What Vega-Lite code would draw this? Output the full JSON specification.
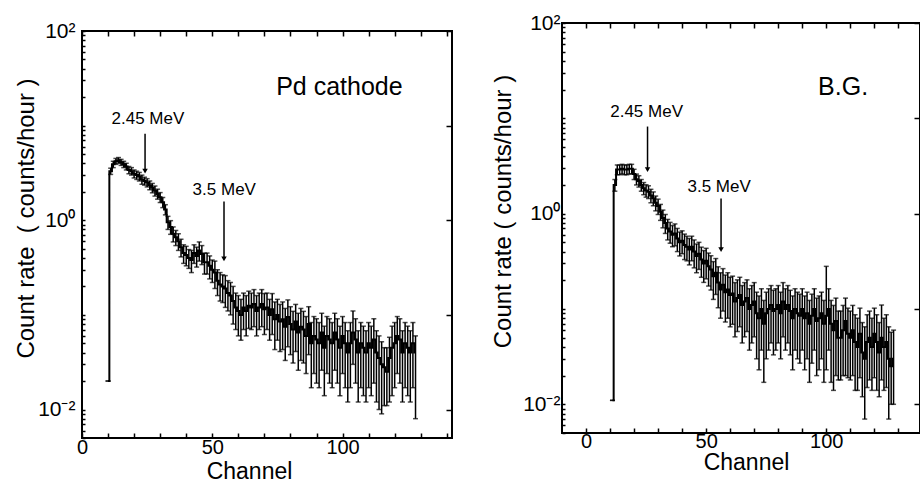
{
"$schema":"https://vega.github.io/schema/vega-lite/v6.json",
"background":"white",
"padding":{"left":13,"top":11,"right":0,"bottom":0},
"config":{"font":"Liberation Sans","view":{"stroke":"black","strokeWidth":2},
"axis":{"grid":false,"domain":false,"tickColor":"black","tickWidth":1.5,"labelColor":"black","titleColor":"black","labelFont":"Liberation Sans","titleFont":"Liberation Sans","titleFontWeight":"normal","labelOverlap":false,"labelFlush":false}},
"datasets":{
"pd":[{"c":10,"v":0.02,"lo":0.02,"hi":0.02},{"c":11,"v":3.3,"lo":3.05,"hi":3.55},{"c":12,"v":3.9,"lo":3.6,"hi":4.2},{"c":13,"v":4.2,"lo":3.9,"hi":4.5},{"c":14,"v":4.3,"lo":4.0,"hi":4.6},{"c":15,"v":4.1,"lo":3.8,"hi":4.4},{"c":16,"v":3.9,"lo":3.6,"hi":4.2},{"c":17,"v":3.7,"lo":3.4,"hi":4.0},{"c":18,"v":3.4,"lo":3.1,"hi":3.7},{"c":19,"v":3.3,"lo":3.0,"hi":3.6},{"c":20,"v":3.1,"lo":2.8,"hi":3.4},{"c":21,"v":3.0,"lo":2.7,"hi":3.3},{"c":22,"v":2.9,"lo":2.6,"hi":3.2},{"c":23,"v":2.7,"lo":2.4,"hi":3.0},{"c":24,"v":2.6,"lo":2.35,"hi":2.85},{"c":25,"v":2.5,"lo":2.25,"hi":2.75},{"c":26,"v":2.35,"lo":2.1,"hi":2.6},{"c":27,"v":2.2,"lo":1.95,"hi":2.45},{"c":28,"v":2.05,"lo":1.8,"hi":2.3},{"c":29,"v":1.9,"lo":1.67,"hi":2.13},{"c":30,"v":1.75,"lo":1.54,"hi":1.96},{"c":31,"v":1.55,"lo":1.36,"hi":1.74},{"c":32,"v":1.3,"lo":1.14,"hi":1.46},{"c":33,"v":0.95,"lo":0.8,"hi":1.1},{"c":34,"v":0.85,"lo":0.71,"hi":0.99},{"c":35,"v":0.72,"lo":0.59,"hi":0.85},{"c":36,"v":0.66,"lo":0.54,"hi":0.78},{"c":37,"v":0.6,"lo":0.48,"hi":0.72},{"c":38,"v":0.52,"lo":0.41,"hi":0.63},{"c":39,"v":0.45,"lo":0.35,"hi":0.55},{"c":40,"v":0.43,"lo":0.33,"hi":0.53},{"c":41,"v":0.4,"lo":0.31,"hi":0.49},{"c":42,"v":0.38,"lo":0.28,"hi":0.48},{"c":43,"v":0.45,"lo":0.35,"hi":0.55},{"c":44,"v":0.42,"lo":0.32,"hi":0.52},{"c":45,"v":0.48,"lo":0.37,"hi":0.59},{"c":46,"v":0.44,"lo":0.34,"hi":0.54},{"c":47,"v":0.36,"lo":0.27,"hi":0.45},{"c":48,"v":0.36,"lo":0.27,"hi":0.45},{"c":49,"v":0.33,"lo":0.24,"hi":0.42},{"c":50,"v":0.3,"lo":0.22,"hi":0.38},{"c":51,"v":0.28,"lo":0.19,"hi":0.37},{"c":52,"v":0.23,"lo":0.16,"hi":0.3},{"c":53,"v":0.21,"lo":0.14,"hi":0.28},{"c":54,"v":0.2,"lo":0.135,"hi":0.265},{"c":55,"v":0.19,"lo":0.12,"hi":0.26},{"c":56,"v":0.17,"lo":0.11,"hi":0.23},{"c":57,"v":0.16,"lo":0.1,"hi":0.22},{"c":58,"v":0.14,"lo":0.08,"hi":0.2},{"c":59,"v":0.12,"lo":0.07,"hi":0.17},{"c":60,"v":0.11,"lo":0.06,"hi":0.16},{"c":61,"v":0.1,"lo":0.054,"hi":0.146},{"c":62,"v":0.12,"lo":0.07,"hi":0.17},{"c":63,"v":0.11,"lo":0.06,"hi":0.16},{"c":64,"v":0.125,"lo":0.072,"hi":0.178},{"c":65,"v":0.12,"lo":0.07,"hi":0.17},{"c":66,"v":0.13,"lo":0.075,"hi":0.185},{"c":67,"v":0.11,"lo":0.06,"hi":0.16},{"c":68,"v":0.12,"lo":0.07,"hi":0.17},{"c":69,"v":0.13,"lo":0.075,"hi":0.185},{"c":70,"v":0.115,"lo":0.062,"hi":0.168},{"c":71,"v":0.12,"lo":0.07,"hi":0.17},{"c":72,"v":0.1,"lo":0.054,"hi":0.146},{"c":73,"v":0.115,"lo":0.062,"hi":0.168},{"c":74,"v":0.09,"lo":0.043,"hi":0.137},{"c":75,"v":0.1,"lo":0.054,"hi":0.146},{"c":76,"v":0.085,"lo":0.041,"hi":0.129},{"c":77,"v":0.09,"lo":0.043,"hi":0.137},{"c":78,"v":0.075,"lo":0.033,"hi":0.117},{"c":79,"v":0.095,"lo":0.046,"hi":0.144},{"c":80,"v":0.08,"lo":0.038,"hi":0.122},{"c":81,"v":0.07,"lo":0.031,"hi":0.109},{"c":82,"v":0.085,"lo":0.041,"hi":0.129},{"c":83,"v":0.065,"lo":0.026,"hi":0.104},{"c":84,"v":0.075,"lo":0.033,"hi":0.117},{"c":85,"v":0.07,"lo":0.031,"hi":0.109},{"c":86,"v":0.06,"lo":0.024,"hi":0.096},{"c":87,"v":0.08,"lo":0.038,"hi":0.122},{"c":88,"v":0.05,"lo":0.017,"hi":0.083},{"c":89,"v":0.06,"lo":0.024,"hi":0.096},{"c":90,"v":0.055,"lo":0.019,"hi":0.091},{"c":91,"v":0.05,"lo":0.017,"hi":0.083},{"c":92,"v":0.065,"lo":0.026,"hi":0.104},{"c":93,"v":0.045,"lo":0.014,"hi":0.076},{"c":94,"v":0.06,"lo":0.024,"hi":0.096},{"c":95,"v":0.055,"lo":0.019,"hi":0.091},{"c":96,"v":0.05,"lo":0.017,"hi":0.083},{"c":97,"v":0.065,"lo":0.026,"hi":0.104},{"c":98,"v":0.055,"lo":0.019,"hi":0.091},{"c":99,"v":0.045,"lo":0.014,"hi":0.076},{"c":100,"v":0.06,"lo":0.024,"hi":0.096},{"c":101,"v":0.05,"lo":0.017,"hi":0.083},{"c":102,"v":0.04,"lo":0.012,"hi":0.068},{"c":103,"v":0.05,"lo":0.017,"hi":0.083},{"c":104,"v":0.065,"lo":0.03,"hi":0.11},{"c":105,"v":0.055,"lo":0.019,"hi":0.091},{"c":106,"v":0.04,"lo":0.012,"hi":0.068},{"c":107,"v":0.05,"lo":0.017,"hi":0.083},{"c":108,"v":0.045,"lo":0.014,"hi":0.076},{"c":109,"v":0.04,"lo":0.012,"hi":0.068},{"c":110,"v":0.05,"lo":0.017,"hi":0.083},{"c":111,"v":0.045,"lo":0.014,"hi":0.076},{"c":112,"v":0.055,"lo":0.019,"hi":0.091},{"c":113,"v":0.04,"lo":0.012,"hi":0.068},{"c":114,"v":0.035,"lo":0.01,"hi":0.06},{"c":115,"v":0.03,"lo":0.009,"hi":0.052},{"c":116,"v":0.028,"lo":0.011,"hi":0.045},{"c":117,"v":0.025,"lo":0.011,"hi":0.045},{"c":118,"v":0.035,"lo":0.012,"hi":0.058},{"c":119,"v":0.045,"lo":0.014,"hi":0.076},{"c":120,"v":0.05,"lo":0.017,"hi":0.083},{"c":121,"v":0.06,"lo":0.024,"hi":0.096},{"c":122,"v":0.055,"lo":0.019,"hi":0.091},{"c":123,"v":0.04,"lo":0.012,"hi":0.068},{"c":124,"v":0.05,"lo":0.017,"hi":0.083},{"c":125,"v":0.045,"lo":0.014,"hi":0.076},{"c":126,"v":0.04,"lo":0.012,"hi":0.068},{"c":127,"v":0.05,"lo":0.017,"hi":0.083},{"c":128,"v":0.04,"lo":0.008,"hi":0.06}],
"bg":[{"c":11,"v":0.011,"lo":0.011,"hi":0.011},{"c":12,"v":2.0,"lo":1.72,"hi":2.28},{"c":13,"v":2.9,"lo":2.56,"hi":3.24},{"c":14,"v":2.9,"lo":2.56,"hi":3.24},{"c":15,"v":2.95,"lo":2.61,"hi":3.29},{"c":16,"v":2.9,"lo":2.56,"hi":3.24},{"c":17,"v":2.9,"lo":2.56,"hi":3.24},{"c":18,"v":2.95,"lo":2.61,"hi":3.29},{"c":19,"v":2.95,"lo":2.61,"hi":3.29},{"c":20,"v":2.6,"lo":2.28,"hi":2.92},{"c":21,"v":2.3,"lo":2.0,"hi":2.6},{"c":22,"v":2.2,"lo":1.9,"hi":2.5},{"c":23,"v":2.0,"lo":1.72,"hi":2.28},{"c":24,"v":1.85,"lo":1.58,"hi":2.12},{"c":25,"v":1.75,"lo":1.49,"hi":2.01},{"c":26,"v":1.7,"lo":1.44,"hi":1.96},{"c":27,"v":1.55,"lo":1.3,"hi":1.8},{"c":28,"v":1.45,"lo":1.21,"hi":1.69},{"c":29,"v":1.3,"lo":1.07,"hi":1.53},{"c":30,"v":1.2,"lo":0.98,"hi":1.42},{"c":31,"v":1.05,"lo":0.85,"hi":1.25},{"c":32,"v":0.9,"lo":0.71,"hi":1.09},{"c":33,"v":0.8,"lo":0.62,"hi":0.98},{"c":34,"v":0.7,"lo":0.53,"hi":0.87},{"c":35,"v":0.65,"lo":0.49,"hi":0.81},{"c":36,"v":0.6,"lo":0.45,"hi":0.75},{"c":37,"v":0.62,"lo":0.46,"hi":0.78},{"c":38,"v":0.55,"lo":0.4,"hi":0.7},{"c":39,"v":0.5,"lo":0.36,"hi":0.64},{"c":40,"v":0.52,"lo":0.38,"hi":0.66},{"c":41,"v":0.47,"lo":0.33,"hi":0.61},{"c":42,"v":0.45,"lo":0.32,"hi":0.58},{"c":43,"v":0.42,"lo":0.29,"hi":0.55},{"c":44,"v":0.45,"lo":0.32,"hi":0.58},{"c":45,"v":0.4,"lo":0.27,"hi":0.53},{"c":46,"v":0.36,"lo":0.24,"hi":0.48},{"c":47,"v":0.38,"lo":0.26,"hi":0.5},{"c":48,"v":0.33,"lo":0.215,"hi":0.445},{"c":49,"v":0.3,"lo":0.19,"hi":0.41},{"c":50,"v":0.32,"lo":0.207,"hi":0.433},{"c":51,"v":0.28,"lo":0.174,"hi":0.386},{"c":52,"v":0.26,"lo":0.158,"hi":0.362},{"c":53,"v":0.22,"lo":0.126,"hi":0.314},{"c":54,"v":0.24,"lo":0.142,"hi":0.338},{"c":55,"v":0.19,"lo":0.103,"hi":0.277},{"c":56,"v":0.16,"lo":0.08,"hi":0.24},{"c":57,"v":0.18,"lo":0.095,"hi":0.265},{"c":58,"v":0.15,"lo":0.073,"hi":0.227},{"c":59,"v":0.16,"lo":0.08,"hi":0.24},{"c":60,"v":0.14,"lo":0.065,"hi":0.215},{"c":61,"v":0.145,"lo":0.069,"hi":0.221},{"c":62,"v":0.12,"lo":0.051,"hi":0.189},{"c":63,"v":0.13,"lo":0.058,"hi":0.202},{"c":64,"v":0.14,"lo":0.065,"hi":0.215},{"c":65,"v":0.11,"lo":0.044,"hi":0.176},{"c":66,"v":0.12,"lo":0.051,"hi":0.189},{"c":67,"v":0.13,"lo":0.058,"hi":0.202},{"c":68,"v":0.1,"lo":0.037,"hi":0.163},{"c":69,"v":0.11,"lo":0.044,"hi":0.176},{"c":70,"v":0.12,"lo":0.051,"hi":0.189},{"c":71,"v":0.09,"lo":0.03,"hi":0.15},{"c":72,"v":0.08,"lo":0.023,"hi":0.137},{"c":73,"v":0.1,"lo":0.037,"hi":0.163},{"c":74,"v":0.07,"lo":0.017,"hi":0.123},{"c":75,"v":0.09,"lo":0.03,"hi":0.15},{"c":76,"v":0.1,"lo":0.037,"hi":0.163},{"c":77,"v":0.11,"lo":0.044,"hi":0.176},{"c":78,"v":0.095,"lo":0.033,"hi":0.157},{"c":79,"v":0.1,"lo":0.037,"hi":0.163},{"c":80,"v":0.11,"lo":0.044,"hi":0.176},{"c":81,"v":0.09,"lo":0.03,"hi":0.15},{"c":82,"v":0.12,"lo":0.051,"hi":0.189},{"c":83,"v":0.1,"lo":0.037,"hi":0.163},{"c":84,"v":0.11,"lo":0.044,"hi":0.176},{"c":85,"v":0.095,"lo":0.033,"hi":0.157},{"c":86,"v":0.08,"lo":0.023,"hi":0.137},{"c":87,"v":0.1,"lo":0.037,"hi":0.163},{"c":88,"v":0.09,"lo":0.03,"hi":0.15},{"c":89,"v":0.085,"lo":0.027,"hi":0.143},{"c":90,"v":0.1,"lo":0.037,"hi":0.163},{"c":91,"v":0.08,"lo":0.023,"hi":0.137},{"c":92,"v":0.09,"lo":0.03,"hi":0.15},{"c":93,"v":0.07,"lo":0.017,"hi":0.123},{"c":94,"v":0.085,"lo":0.027,"hi":0.143},{"c":95,"v":0.1,"lo":0.037,"hi":0.163},{"c":96,"v":0.075,"lo":0.02,"hi":0.13},{"c":97,"v":0.08,"lo":0.023,"hi":0.137},{"c":98,"v":0.09,"lo":0.03,"hi":0.15},{"c":99,"v":0.07,"lo":0.017,"hi":0.123},{"c":100,"v":0.085,"lo":0.023,"hi":0.28},{"c":101,"v":0.1,"lo":0.037,"hi":0.163},{"c":102,"v":0.07,"lo":0.017,"hi":0.123},{"c":103,"v":0.06,"lo":0.014,"hi":0.109},{"c":104,"v":0.075,"lo":0.02,"hi":0.13},{"c":105,"v":0.05,"lo":0.018,"hi":0.095},{"c":106,"v":0.05,"lo":0.018,"hi":0.095},{"c":107,"v":0.06,"lo":0.02,"hi":0.109},{"c":108,"v":0.075,"lo":0.02,"hi":0.13},{"c":109,"v":0.055,"lo":0.019,"hi":0.102},{"c":110,"v":0.05,"lo":0.018,"hi":0.095},{"c":111,"v":0.06,"lo":0.02,"hi":0.109},{"c":112,"v":0.045,"lo":0.014,"hi":0.087},{"c":113,"v":0.04,"lo":0.014,"hi":0.08},{"c":114,"v":0.055,"lo":0.019,"hi":0.102},{"c":115,"v":0.035,"lo":0.012,"hi":0.072},{"c":116,"v":0.03,"lo":0.007,"hi":0.065},{"c":117,"v":0.045,"lo":0.015,"hi":0.087},{"c":118,"v":0.05,"lo":0.018,"hi":0.095},{"c":119,"v":0.04,"lo":0.014,"hi":0.08},{"c":120,"v":0.055,"lo":0.019,"hi":0.102},{"c":121,"v":0.045,"lo":0.014,"hi":0.087},{"c":122,"v":0.035,"lo":0.012,"hi":0.072},{"c":123,"v":0.05,"lo":0.018,"hi":0.11},{"c":124,"v":0.04,"lo":0.014,"hi":0.08},{"c":125,"v":0.045,"lo":0.015,"hi":0.087},{"c":126,"v":0.03,"lo":0.007,"hi":0.065},{"c":127,"v":0.025,"lo":0.01,"hi":0.057},{"c":128,"v":0.03,"lo":0.01,"hi":0.06}],
"pdann":[{"c":24.2,"ytop":8.2,"ybot":3.3,"lc":25.3,"ly":11.8,"label":"2.45 MeV"},{"c":54.5,"ytop":1.58,"ybot":0.39,"lc":54.6,"ly":2.1,"label":"3.5 MeV"}],
"bgann":[{"c":25.6,"ytop":8.2,"ybot":2.9,"lc":25.2,"ly":11.7,"label":"2.45 MeV"},{"c":56.2,"ytop":1.44,"ybot":0.42,"lc":55.4,"ly":1.92,"label":"3.5 MeV"}],
"pdtitle":[{"lc":98.8,"ly":25.7,"label":"Pd cathode"}],
"bgtitle":[{"lc":107,"ly":21.5,"label":"B.G."}]
},
"bounds":"full",
"spacing":36,
"hconcat":[
 {"bounds":"flush","spacing":7,"vconcat":[
  {"width":370,"height":1,"data":{"values":[{"a":1}]},"mark":{"type":"text"},"encoding":{"text":{"value":""}},"view":{"stroke":null}},
  {"width":370,"height":407,
  "resolve":{"axis":{"x":"independent","y":"independent"}},
  "layer":[
   {"data":{"name":"pd"},"mark":{"type":"line","interpolate":"step","color":"black","strokeWidth":2},
    "encoding":{
     "x":{"field":"c","type":"quantitative","scale":{"domain":[0,142],"nice":false,"zero":false},
      "axis":{"orient":"bottom","values":[0,10,20,30,40,50,60,70,80,90,100,110,120,130,140],"labelExpr":"datum.value % 50 == 0 ? datum.label : ''","tickSize":-5,"labelPadding":4,"labelFontSize":20,"title":"Channel","titleFontSize":23,"titleX":167,"titleY":40,"titleBaseline":"alphabetic","titleAlign":"center"}},
     "y":{"field":"v","type":"quantitative","scale":{"type":"log","domain":[0.005,100],"nice":false},
      "axis":{"orient":"left","values":[0.005,0.006,0.007,0.008,0.009,0.01,0.02,0.03,0.04,0.05,0.06,0.07,0.08,0.09,0.1,0.2,0.3,0.4,0.5,0.6,0.7,0.8,0.9,1,2,3,4,5,6,7,8,9,10,20,30,40,50,60,70,80,90,100],"labelExpr":"datum.value == 100 ? '10²' : datum.value == 1 ? '10⁰' : datum.value == 0.01 ? '10⁻²' : ''","tickSize":-3,"labelPadding":10,"labelFontSize":21,"title":"Count rate\u00a0 ( counts/hour )","titleFontSize":24,"titleX":-56,"titleY":187,"titleAngle":-90,"titleBaseline":"middle","titleAlign":"center"}}}},
   {"data":{"name":"pd"},"mark":{"type":"errorbar","ticks":{"size":5},"thickness":1.5,"color":"black"},
    "encoding":{"x":{"field":"c","type":"quantitative","scale":{"domain":[0,142],"nice":false,"zero":false},"axis":null},
     "y":{"field":"lo","type":"quantitative","scale":{"type":"log","domain":[0.005,100],"nice":false},"axis":null},"y2":{"field":"hi"}}},
   {"data":{"name":"pdann"},"mark":{"type":"rule","color":"black","strokeWidth":1.5},
    "encoding":{"x":{"field":"c","type":"quantitative","scale":{"domain":[0,142],"nice":false,"zero":false},
      "axis":{"orient":"top","values":[0,10,20,30,40,50,60,70,80,90,100,110,120,130,140],"labels":false,"tickSize":-5,"title":null}},
     "y":{"field":"ytop","type":"quantitative","scale":{"type":"log","domain":[0.005,100],"nice":false},
      "axis":{"orient":"right","values":[0.01,0.1,1,10,100],"labels":false,"tickSize":-6,"title":null}},"y2":{"field":"ybot"}}},
   {"data":{"name":"pdann"},"mark":{"type":"point","shape":"triangle-down","filled":true,"color":"black","size":30,"opacity":1},
    "encoding":{"x":{"field":"c","type":"quantitative","scale":{"domain":[0,142],"nice":false,"zero":false},"axis":null},
     "y":{"field":"ybot","type":"quantitative","scale":{"type":"log","domain":[0.005,100],"nice":false},"axis":null}}},
   {"data":{"name":"pdann"},"mark":{"type":"text","fontSize":17,"color":"black","baseline":"middle","align":"center"},
    "encoding":{"x":{"field":"lc","type":"quantitative","scale":{"domain":[0,142],"nice":false,"zero":false},"axis":null},
     "y":{"field":"ly","type":"quantitative","scale":{"type":"log","domain":[0.005,100],"nice":false},"axis":null},"text":{"field":"label"}}},
   {"data":{"name":"pdtitle"},"mark":{"type":"text","fontSize":25,"color":"black","baseline":"middle","align":"center"},
    "encoding":{"x":{"field":"lc","type":"quantitative","scale":{"domain":[0,142],"nice":false,"zero":false},"axis":null},
     "y":{"field":"ly","type":"quantitative","scale":{"type":"log","domain":[0.005,100],"nice":false},"axis":null},"text":{"field":"label"}}}
  ]}
 ]},
 {"width":358,"height":410,
 "resolve":{"axis":{"x":"independent","y":"independent"}},
 "layer":[
   {"data":{"name":"bg"},"mark":{"type":"line","interpolate":"step","color":"black","strokeWidth":2},
    "encoding":{
     "x":{"field":"c","type":"quantitative","scale":{"domain":[-10,139],"nice":false,"zero":false},
      "axis":{"orient":"bottom","values":[0,10,20,30,40,50,60,70,80,90,100,110,120,130],"labelExpr":"datum.value % 50 == 0 ? datum.label : ''","tickSize":-5,"labelPadding":3,"labelFontSize":20,"title":"Channel","titleFontSize":23,"titleX":184,"titleY":36,"titleBaseline":"alphabetic","titleAlign":"center"}},
     "y":{"field":"v","type":"quantitative","scale":{"type":"log","domain":[0.005,100],"nice":false},
      "axis":{"orient":"left","values":[0.005,0.006,0.007,0.008,0.009,0.01,0.02,0.03,0.04,0.05,0.06,0.07,0.08,0.09,0.1,0.2,0.3,0.4,0.5,0.6,0.7,0.8,0.9,1,2,3,4,5,6,7,8,9,10,20,30,40,50,60,70,80,90,100],"labelExpr":"datum.value == 100 ? '10²' : datum.value == 1 ? '10⁰' : datum.value == 0.01 ? '10⁻²' : ''","tickSize":-3,"labelPadding":5,"labelFontSize":21,"title":"Count rate ( counts/hour )","titleFontSize":24,"titleX":-59,"titleY":188,"titleAngle":-90,"titleBaseline":"middle","titleAlign":"center"}}}},
   {"data":{"name":"bg"},"mark":{"type":"errorbar","ticks":{"size":5},"thickness":1.5,"color":"black"},
    "encoding":{"x":{"field":"c","type":"quantitative","scale":{"domain":[-10,139],"nice":false,"zero":false},"axis":null},
     "y":{"field":"lo","type":"quantitative","scale":{"type":"log","domain":[0.005,100],"nice":false},"axis":null},"y2":{"field":"hi"}}},
   {"data":{"name":"bgann"},"mark":{"type":"rule","color":"black","strokeWidth":1.5},
    "encoding":{"x":{"field":"c","type":"quantitative","scale":{"domain":[-10,139],"nice":false,"zero":false},
      "axis":{"orient":"top","values":[0,10,20,30,40,50,60,70,80,90,100,110,120,130],"labels":false,"tickSize":-5,"title":null}},
     "y":{"field":"ytop","type":"quantitative","scale":{"type":"log","domain":[0.005,100],"nice":false},
      "axis":{"orient":"right","values":[0.01,0.1,1,10,100],"labels":false,"tickSize":-6,"title":null}},"y2":{"field":"ybot"}}},
   {"data":{"name":"bgann"},"mark":{"type":"point","shape":"triangle-down","filled":true,"color":"black","size":30,"opacity":1},
    "encoding":{"x":{"field":"c","type":"quantitative","scale":{"domain":[-10,139],"nice":false,"zero":false},"axis":null},
     "y":{"field":"ybot","type":"quantitative","scale":{"type":"log","domain":[0.005,100],"nice":false},"axis":null}}},
   {"data":{"name":"bgann"},"mark":{"type":"text","fontSize":17,"color":"black","baseline":"middle","align":"center"},
    "encoding":{"x":{"field":"lc","type":"quantitative","scale":{"domain":[-10,139],"nice":false,"zero":false},"axis":null},
     "y":{"field":"ly","type":"quantitative","scale":{"type":"log","domain":[0.005,100],"nice":false},"axis":null},"text":{"field":"label"}}},
   {"data":{"name":"bgtitle"},"mark":{"type":"text","fontSize":25,"color":"black","baseline":"middle","align":"center"},
    "encoding":{"x":{"field":"lc","type":"quantitative","scale":{"domain":[-10,139],"nice":false,"zero":false},"axis":null},
     "y":{"field":"ly","type":"quantitative","scale":{"type":"log","domain":[0.005,100],"nice":false},"axis":null},"text":{"field":"label"}}}
 ]}
]
}
